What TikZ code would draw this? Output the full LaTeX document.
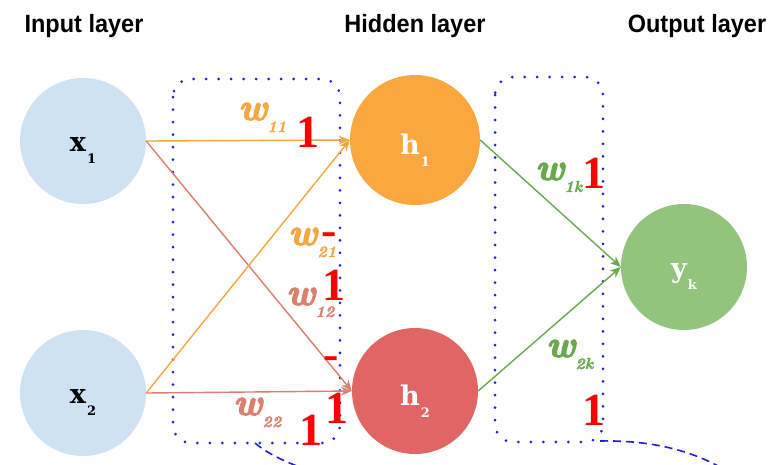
\documentclass[tikz,border=0pt]{standalone}
\usepackage{fontspec}
\usepackage{graphicx}
\usetikzlibrary{arrows.meta}
\newfontfamily\headfont[FakeStretch=0.94]{Liberation Sans}
\newfontfamily\redfont{Liberation Serif}
\newfontfamily\nodefont{DejaVu Serif}
\newfontfamily\wfont[FakeBold=3]{Latin Modern Roman}
\newfontfamily\subfont[FakeBold=1.5]{Latin Modern Roman}
\definecolor{inblue}{HTML}{CFE2F3}
\definecolor{horange}{HTML}{F9A73E}
\definecolor{eorange}{HTML}{F4A742}
\definecolor{hred}{HTML}{E06666}
\definecolor{ered}{HTML}{D9806F}
\definecolor{ygreen}{HTML}{93C47D}
\definecolor{egreen}{HTML}{6AA84F}
\definecolor{dotblue}{HTML}{1F1FE0}
\newcommand\nlab[2]{{\nodefont\bfseries\fontsize{27}{27}\selectfont #1}\hspace{1pt}\raisebox{-12pt}{\nodefont\bfseries\fontsize{13}{13}\selectfont #2}}
\newcommand\wlab[1]{{\wfont\bfseries\itshape\fontsize{38}{38}\selectfont w}\hspace{0pt}\raisebox{-12pt}{\subfont\bfseries\itshape\fontsize{16}{16}\selectfont #1}}
\begin{document}
\begin{tikzpicture}[x=1pt,y=-1pt,
  neuron/.style={circle,minimum size=126pt,inner sep=0pt,draw=none},
  lbl/.style={inner sep=0pt},
  head/.style={inner sep=0pt,anchor=base,font=\headfont\bfseries\fontsize{25}{25}\selectfont},
  wt/.style={inner sep=0pt,anchor=base west},
  redmark/.style={inner sep=0pt,anchor=base,text=red,font=\redfont\bfseries\fontsize{46}{46}\selectfont},
  conn/.style={line width=1.4pt,-{Stealth[length=11pt,width=9pt]}},
  dotbox/.style={draw=dotblue,line width=3pt,line cap=round,dash pattern=on 0pt off 12.5pt,rounded corners=18pt},
  dashcurve/.style={draw=dotblue,line width=1.6pt,dash pattern=on 8pt off 5pt}
]
\useasboundingbox (0,0) rectangle (771,464);
\fill[white] (0,0) rectangle (771,464);

% headings
\node[head] (hin) at (84,32) {Input layer};
\node[head] (hhid) at (415,32) {Hidden layer};
\node[head] (hout) at (697,32) {Output layer};

% dotted boxes
\draw[dotbox] (173,79) rectangle (340,443);
\draw[dotbox] (495,77) rectangle (603,442);

% dashed curves leaving the boxes
\coordinate (dl0) at (255,443);
\coordinate (dl1) at (330,480);
\coordinate (dr0) at (600,441);
\coordinate (dr1) at (740,480);
\draw[dashcurve] (dl0) .. controls (275,460) and (300,466) .. (dl1);
\draw[dashcurve] (dr0) .. controls (650,440) and (700,450) .. (dr1);

% neurons
\node[neuron,fill=inblue] (x1) at (83,141) {};
\node[neuron,fill=inblue] (x2) at (83,393) {};
\node[neuron,fill=horange,minimum size=130pt] (h1) at (415,140) {};
\node[neuron,fill=hred] (h2) at (415,391) {};
\node[neuron,fill=ygreen] (yk) at (684,267) {};

% neuron labels
\node[lbl,text=black] (x1l) at ([yshift=-9pt]x1.center) {\nlab{x}{1}};
\node[lbl,text=black] (x2l) at ([yshift=-9pt]x2.center) {\nlab{x}{2}};
\node[lbl,text=white] (h1l) at ([yshift=-10pt]h1.center) {\nlab{h}{1}};
\node[lbl,text=white] (h2l) at ([yshift=-10pt]h2.center) {\nlab{h}{2}};
\node[lbl,text=white] (ykl) at ([yshift=-9pt]yk.center) {\nlab{y}{k}};

% connections
\draw[conn,eorange] (x1.east) -- (h1.west);
\draw[conn,ered] (x1.east) -- (h2.west);
\draw[conn,eorange] (x2.east) -- (h1.west);
\draw[conn,ered] (x2.east) -- (h2.west);
\draw[conn,egreen] (h1.east) -- (yk.west);
\draw[conn,egreen] (h2.east) -- (yk.west);

% weight labels
\node[wt,text=eorange] (w11) at (238,120) {\wlab{11}};
\node[wt,text=eorange] (w21) at (288,245) {\wlab{21}};
\node[wt,text=ered] (w12) at (286,305) {\wlab{12}};
\node[wt,text=ered] (w22) at (233,415) {\wlab{22}};
\node[wt,text=egreen] (w1k) at (535,180) {\wlab{1k}};
\node[wt,text=egreen] (w2k) at (546,357) {\wlab{2k}};

% red marks
\node[redmark] (r1) at (308,147) {1};
\node[redmark] (r2) at (329,245) {-};
\node[redmark] (r3) at (334,300) {1};
\node[redmark] (r4) at (331,369) {-};
\node[redmark] (r5) at (337,423) {1};
\node[redmark] (r6) at (311,445) {1};
\node[redmark] (r7) at (594,188) {1};
\node[redmark] (r8) at (594,425) {1};
\end{tikzpicture}
\end{document}
